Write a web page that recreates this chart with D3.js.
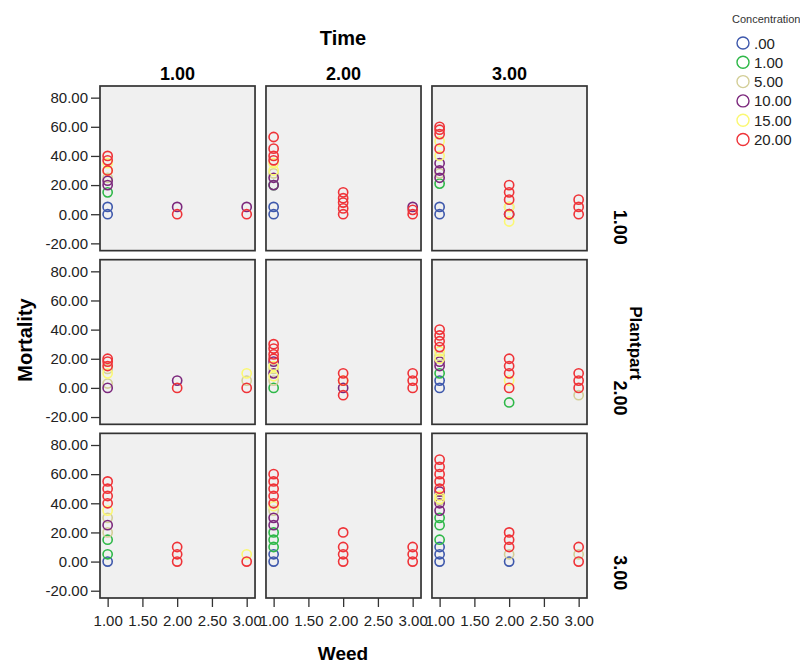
<!DOCTYPE html>
<html><head><meta charset="utf-8">
<script src="https://cdn.jsdelivr.net/npm/d3@7"></script>
<style>
body{margin:0;background:#fff;}
svg{font-family:"Liberation Sans",Arial,sans-serif;}
</style></head>
<body><svg id="c" width="800" height="666"></svg>
<script>
// facet levels
const timeLevels = ["1.00","2.00","3.00"];
const plantpartLevels = ["1.00","2.00","3.00"];
const concLabels = [".00","1.00","5.00","10.00","15.00","20.00"];
const concColors = ["#3e58ac","#2eb848","#d3ce97","#7c287d","#fbf873","#ef3338"];
const xTicks = [1,1.5,2,2.5,3];
const yTicks = [-20,0,20,40,60,80];
// points: [time, plantpart, weed, mortality]
const conc00 = [
 [1,1,1,0],[1,1,1,5],[2,1,1,0],[2,1,1,5],[3,1,1,0],[3,1,1,5],
 [3,2,1,0],[3,2,1,5],[1,3,1,0],[2,3,1,0],[2,3,1,5],
 [3,3,1,0],[3,3,1,5],[3,3,1,10],[3,3,2,0]
];
const conc01 = [
 [1,1,1,15],[2,1,1,20],[3,1,1,21],[2,2,1,0],[3,2,1,10],[3,2,2,-10],
 [1,3,1,5],[1,3,1,15],[2,3,1,10],[2,3,1,15],[2,3,1,20],[3,3,1,15],[3,3,1,25],[3,3,1,30]
];
const conc05 = [
 [1,1,1,25],[2,1,1,28],[3,1,1,28],[3,1,2,5],[1,2,1,3],[1,2,1,13],[1,2,3,5],
 [2,2,1,5],[2,2,1,13],[3,2,1,22],[3,2,3,-5],[1,3,1,20],[1,3,1,30],[2,3,1,35],
 [3,3,1,42],[3,3,2,5],[3,3,3,5]
];
const conc10 = [
 [1,1,1,20],[1,1,1,23],[1,1,2,5],[1,1,3,5],[2,1,1,20],[2,1,1,25],[2,1,3,5],
 [3,1,1,25],[3,1,1,30],[3,1,1,35],[3,1,2,0],[1,2,1,0],[1,2,2,5],
 [2,2,1,10],[2,2,1,18],[2,2,2,0],[3,2,1,15],[3,2,1,18],[1,3,1,25],
 [2,3,1,25],[2,3,1,30],[3,3,1,35],[3,3,1,40],[3,3,1,48]
];
const conc15 = [
 [1,1,1,30],[1,1,1,35],[2,1,1,30],[2,1,1,35],[3,1,1,40],[3,1,1,50],[3,1,2,-5],[3,1,2,5],
 [1,2,1,10],[1,2,3,10],[2,2,1,8],[2,2,1,15],[2,2,2,5],[3,2,1,20],[3,2,1,25],[3,2,2,5],
 [1,3,1,35],[1,3,3,5],[2,3,1,38],[3,3,1,43],[3,3,1,45]
];
const conc20 = [
 [1,1,1,30],[1,1,1,37],[1,1,1,40],[1,1,2,0],[1,1,3,0],
 [2,1,1,37],[2,1,1,40],[2,1,1,45],[2,1,1,53],[2,1,2,0],[2,1,2,4],[2,1,2,8],[2,1,2,11],[2,1,2,15],[2,1,3,0],[2,1,3,3],
 [3,1,1,45],[3,1,1,55],[3,1,1,58],[3,1,1,60],[3,1,2,0],[3,1,2,10],[3,1,2,15],[3,1,2,20],[3,1,3,0],[3,1,3,5],[3,1,3,10],
 [1,2,1,15],[1,2,1,18],[1,2,1,20],[1,2,2,0],[1,2,3,0],
 [2,2,1,20],[2,2,1,23],[2,2,1,27],[2,2,1,30],[2,2,2,-5],[2,2,2,5],[2,2,2,10],[2,2,3,0],[2,2,3,5],[2,2,3,10],
 [3,2,1,28],[3,2,1,32],[3,2,1,36],[3,2,1,40],[3,2,2,0],[3,2,2,10],[3,2,2,15],[3,2,2,20],[3,2,3,0],[3,2,3,5],[3,2,3,10],
 [1,3,1,40],[1,3,1,45],[1,3,1,50],[1,3,1,55],[1,3,2,0],[1,3,2,5],[1,3,2,10],[1,3,3,0],
 [2,3,1,40],[2,3,1,45],[2,3,1,50],[2,3,1,55],[2,3,1,60],[2,3,2,0],[2,3,2,5],[2,3,2,10],[2,3,2,20],[2,3,3,0],[2,3,3,5],[2,3,3,10],
 [3,3,1,50],[3,3,1,55],[3,3,1,60],[3,3,1,65],[3,3,1,70],[3,3,2,10],[3,3,2,15],[3,3,2,20],[3,3,3,0],[3,3,3,10]
];
const series = [conc00, conc01, conc05, conc10, conc15, conc20];

const svg = d3.select("#c");
const fmt = d => d.toFixed(2);
const colLeft = d3.scaleBand().domain(timeLevels).range([100, 587]).paddingInner(0.066).paddingOuter(0);
const rowTop = d3.scaleBand().domain(plantpartLevels).range([86, 598]).paddingInner(0.052).paddingOuter(0);
const x = d3.scaleLinear().domain([0.89, 3.12]).range([0, colLeft.bandwidth()]);
const y = d3.scaleLinear().domain([-25, 88]).range([rowTop.bandwidth(), 0]);

timeLevels.forEach((t, ci) => {
  plantpartLevels.forEach((p, ri) => {
    const g = svg.append("g").attr("transform", `translate(${colLeft(t)},${rowTop(p)})`);
    g.append("rect").attr("width", colLeft.bandwidth()).attr("height", rowTop.bandwidth())
      .attr("fill", "#f0f0f0").attr("stroke", "#333").attr("stroke-width", 1.7);
    series.forEach((s, k) => {
      g.selectAll(null).data(s.filter(d => d[0] === ci + 1 && d[1] === ri + 1)).enter()
        .append("circle").attr("cx", d => x(d[2])).attr("cy", d => y(d[3])).attr("r", 4.6)
        .attr("fill", "none").attr("stroke", concColors[k]).attr("stroke-width", 1.6);
    });
    if (ci === 0) {
      const ax = g.append("g").call(d3.axisLeft(y).tickValues(yTicks).tickFormat(fmt).tickSize(9).tickSizeOuter(0));
      ax.select(".domain").remove();
      ax.selectAll("line").attr("stroke", "#333").attr("stroke-width", 1.3);
      ax.selectAll("text").attr("font-size", 15).attr("fill", "#222").attr("font-family", "Liberation Sans, Arial, sans-serif").attr("x", -12);
    }
    if (ri === 2) {
      const ax = g.append("g").attr("transform", `translate(0,${rowTop.bandwidth()})`)
        .call(d3.axisBottom(x).tickValues(xTicks).tickFormat(fmt).tickSize(9).tickSizeOuter(0));
      ax.select(".domain").remove();
      ax.selectAll("line").attr("stroke", "#333").attr("stroke-width", 1.3);
      ax.selectAll("text").attr("font-size", 15).attr("fill", "#222").attr("font-family", "Liberation Sans, Arial, sans-serif").attr("y", 17);
    }
  });
  svg.append("text").attr("x", colLeft(t) + colLeft.bandwidth() / 2).attr("y", 80)
    .attr("text-anchor", "middle").attr("font-weight", "bold").attr("font-size", 18).text(t);
});

// row labels (right)
const rowLabelOffset = [59, 56, 57];
plantpartLevels.forEach((p, ri) => {
  const cy = rowTop(p) + rowTop.bandwidth() / 2 + rowLabelOffset[ri];
  svg.append("text").attr("transform", `translate(614,${cy}) rotate(90)`)
    .attr("text-anchor", "middle").attr("font-weight", "bold").attr("font-size", 18).text(p);
});
svg.append("text").attr("transform", "translate(630,343) rotate(90)")
  .attr("text-anchor", "middle").attr("font-weight", "bold").attr("font-size", 17).text("Plantpart");

svg.append("text").attr("x", 343).attr("y", 45).attr("text-anchor", "middle")
  .attr("font-weight", "bold").attr("font-size", 20).text("Time");
svg.append("text").attr("x", 343).attr("y", 660).attr("text-anchor", "middle")
  .attr("font-weight", "bold").attr("font-size", 19).text("Weed");
svg.append("text").attr("transform", "translate(32,340) rotate(-90)").attr("text-anchor", "middle")
  .attr("font-weight", "bold").attr("font-size", 20).text("Mortality");

// legend
const lg = svg.append("g");
lg.append("text").attr("x", 732).attr("y", 23).attr("font-size", 11).attr("fill", "#333").text("Concentration");
const ly = d3.scalePoint().domain(concLabels).range([43, 139.5]);
concLabels.forEach((c, k) => {
  lg.append("circle").attr("cx", 743).attr("cy", ly(c)).attr("r", 6)
    .attr("fill", "none").attr("stroke", concColors[k]).attr("stroke-width", 1.4);
  lg.append("text").attr("x", 754).attr("y", ly(c) + 5.5).attr("font-size", 15).attr("fill", "#222").text(c);
});
</script></body></html>
